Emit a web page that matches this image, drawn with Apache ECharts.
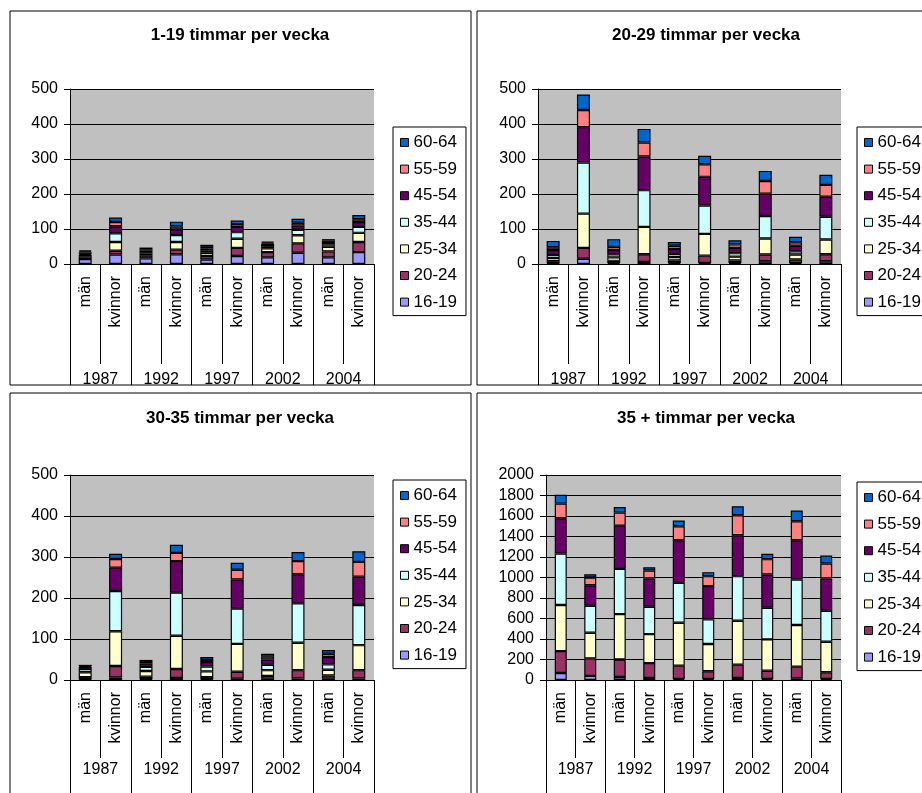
<!DOCTYPE html>
<html>
<head>
<meta charset="utf-8">
<script src="https://cdn.jsdelivr.net/npm/echarts@6/dist/echarts.min.js"></script>
<style>
  html, body { margin: 0; padding: 0; background: #fff; }
  #chart { width: 922px; height: 793px; }
</style>
</head>
<body>
<div id="chart"></div>
<script>
// Age groups (stack order bottom to top) and category levels
const ageGroups = ['16-19', '20-24', '25-34', '35-44', '45-54', '55-59', '60-64'];
const years = ['1987', '1992', '1997', '2002', '2004'];
const sexes = ['män', 'kvinnor'];

// Number of employed (thousands), bars ordered män/kvinnor for each year
// 1-19 timmar per vecka
const h1_19_16_19 = [14, 27, 16, 28, 13, 23, 19, 32, 19, 34];
const h1_19_20_24 = [8, 11, 8, 13, 10, 23, 15, 27, 17, 29];
const h1_19_25_34 = [4, 25, 6, 22, 9, 26, 11, 23, 13, 26];
const h1_19_35_44 = [3, 25, 4, 20, 6, 19, 6, 16, 7, 17];
const h1_19_45_54 = [4, 20, 4, 16, 6, 15, 7, 12, 7, 14];
const h1_19_55_59 = [3, 12, 4, 8, 5, 8, 3, 8, 4, 8];
const h1_19_60_64 = [3, 13, 5, 14, 6, 10, 3, 11, 4, 12];

// 20-29 timmar per vecka
const h20_29_16_19 = [2, 15, 3, 6, 3, 3, 3, 8, 3, 8];
const h20_29_20_24 = [6, 31, 6, 22, 7, 21, 7, 19, 10, 20];
const h20_29_25_34 = [9, 98, 10, 78, 10, 62, 11, 46, 14, 42];
const h20_29_35_44 = [9, 146, 9, 105, 9, 81, 10, 64, 9, 65];
const h20_29_45_54 = [14, 101, 12, 96, 14, 82, 15, 64, 16, 57];
const h20_29_55_59 = [8, 49, 9, 40, 9, 36, 10, 36, 10, 34];
const h20_29_60_64 = [18, 44, 22, 39, 11, 24, 12, 29, 16, 29];

// 30-35 timmar per vecka
const h30_35_16_19 = [2, 6, 2, 5, 2, 3, 3, 4, 3, 4];
const h30_35_20_24 = [5, 28, 6, 22, 5, 17, 7, 20, 8, 20];
const h30_35_25_34 = [12, 85, 14, 81, 14, 68, 14, 67, 14, 61];
const h30_35_35_44 = [8, 98, 10, 105, 12, 86, 13, 96, 13, 98];
const h30_35_45_54 = [5, 57, 8, 77, 11, 71, 13, 71, 18, 69];
const h30_35_55_59 = [2, 21, 4, 20, 5, 24, 7, 32, 8, 36];
const h30_35_60_64 = [3, 13, 5, 20, 7, 17, 7, 22, 9, 26];

// 35 + timmar per vecka
const h35p_16_19 = [68, 40, 30, 20, 10, 10, 20, 10, 15, 10];
const h35p_20_24 = [214, 171, 170, 145, 130, 75, 130, 80, 115, 65];
const h35p_25_34 = [449, 250, 443, 283, 418, 266, 428, 306, 406, 298];
const h35p_35_44 = [503, 263, 441, 266, 390, 240, 435, 309, 445, 302];
const h35p_45_54 = [344, 201, 422, 276, 416, 325, 399, 324, 383, 315];
const h35p_55_59 = [143, 75, 127, 78, 136, 97, 195, 150, 185, 146];
const h35p_60_64 = [87, 32, 55, 32, 55, 39, 88, 52, 104, 78];

const panelTitles = ['1-19 timmar per vecka', '20-29 timmar per vecka', '30-35 timmar per vecka', '35 + timmar per vecka'];
const panelSeries = [
  [h1_19_16_19, h1_19_20_24, h1_19_25_34, h1_19_35_44, h1_19_45_54, h1_19_55_59, h1_19_60_64],
  [h20_29_16_19, h20_29_20_24, h20_29_25_34, h20_29_35_44, h20_29_45_54, h20_29_55_59, h20_29_60_64],
  [h30_35_16_19, h30_35_20_24, h30_35_25_34, h30_35_35_44, h30_35_45_54, h30_35_55_59, h30_35_60_64],
  [h35p_16_19, h35p_20_24, h35p_25_34, h35p_35_44, h35p_45_54, h35p_55_59, h35p_60_64]
];
const yMax = [500, 500, 500, 2000];
const yStep = [100, 100, 100, 200];

// Layout of the four panels
const FONT = '"Liberation Sans", Arial, sans-serif';
const ageColors = ['#9999FF', '#993366', '#FFFFCC', '#CCFFFF', '#660066', '#FF8080', '#0066CC'];
const layout = [
  { box: [10, 11, 461, 374], grid: { left: 70, top: 89, width: 304, height: 175 }, titleXY: [240, 35], legend: { left: 393, top: 127 }, innerTick: 100, outerTick: 121, yearMargin: 108, barW: 13 },
  { box: [477, 11, 470, 374], grid: { left: 538, top: 89, width: 303, height: 175 }, titleXY: [706, 35], legend: { left: 857, top: 127 }, innerTick: 100, outerTick: 121, yearMargin: 108, barW: 13 },
  { box: [10, 393, 461, 420], grid: { left: 70, top: 475, width: 304, height: 205 }, titleXY: [240, 418], legend: { left: 393, top: 480 }, innerTick: 78, outerTick: 113, yearMargin: 82, barW: 13 },
  { box: [477, 393, 470, 420], grid: { left: 546, top: 475, width: 295, height: 205 }, titleXY: [706, 418], legend: { left: 857, top: 482 }, innerTick: 78, outerTick: 113, yearMargin: 82, barW: 12 }
];

// Inner category keys: one per bar, shown as the sex label only
const barKeys = [];
years.forEach(y => sexes.forEach(s => barKeys.push(s + ' ' + y)));

const grids = [], xAxes = [], yAxes = [], series = [], legends = [], graphics = [];
const black = '#000';

layout.forEach((L, p) => {
  grids.push(Object.assign({ show: true, backgroundColor: '#C0C0C0', borderWidth: 0, containLabel: false }, L.grid));

  // sex labels, rotated, with separators between every bar
  xAxes.push({
    type: 'category', gridIndex: p, data: barKeys,
    axisLine: { show: true, lineStyle: { color: black, width: 1 } },
    axisTick: { show: true, interval: 0, length: L.innerTick, lineStyle: { color: black } },
    axisLabel: { interval: 0, rotate: 90, margin: 12, fontSize: 16, fontFamily: FONT, color: black,
                 formatter: v => v.split(' ')[0] },
    splitLine: { show: false }
  });
  // year labels, separators spanning both rows
  xAxes.push({
    type: 'category', gridIndex: p, position: 'bottom', data: years,
    axisLine: { show: false },
    axisTick: { show: true, interval: 0, length: L.outerTick, lineStyle: { color: black } },
    axisLabel: { interval: 0, margin: L.yearMargin, fontSize: 16, fontFamily: FONT, color: black },
    splitLine: { show: false }
  });

  yAxes.push({
    type: 'value', gridIndex: p, min: 0, max: yMax[p], interval: yStep[p],
    axisLine: { show: true, lineStyle: { color: black } },
    axisTick: { show: true, length: 6, lineStyle: { color: black } },
    axisLabel: { margin: 12, fontSize: 16, fontFamily: FONT, color: black, formatter: v => String(v) },
    splitLine: { show: true, lineStyle: { color: black, width: 1 } }
  });

  panelSeries[p].forEach((vals, i) => {
    series.push({
      type: 'bar', name: ageGroups[i], stack: 'panel' + p,
      xAxisIndex: 2 * p, yAxisIndex: p, data: vals, barWidth: L.barW,
      itemStyle: { color: ageColors[i], borderColor: black, borderWidth: 1.2 },
      emphasis: { disabled: true }
    });
  });

  legends.push({
    orient: 'vertical', left: L.legend.left, top: L.legend.top,
    data: ageGroups.slice().reverse(), selectedMode: false,
    itemWidth: 8, itemHeight: 8, itemGap: 9.6,
    itemStyle: { borderColor: black, borderWidth: 1 },
    textStyle: { fontSize: 17, fontFamily: FONT, color: black },
    borderColor: black, borderWidth: 1, padding: [7, 9, 5, 7],
    icon: 'rect'
  });

  graphics.push({
    type: 'rect', silent: true,
    shape: { x: L.box[0], y: L.box[1], width: L.box[2], height: L.box[3] },
    style: { fill: null, stroke: black, lineWidth: 1 }
  });
  graphics.push({
    type: 'text', silent: true, x: L.titleXY[0], y: L.titleXY[1],
    style: { text: panelTitles[p], font: 'bold 17px ' + FONT, fill: black, textAlign: 'center', textVerticalAlign: 'middle' }
  });
});

const chart = echarts.init(document.getElementById('chart'), null, { renderer: 'canvas' });
chart.setOption({
  backgroundColor: '#fff',
  animation: false,
  grid: grids, xAxis: xAxes, yAxis: yAxes,
  series: series, legend: legends,
  graphic: graphics
});
</script>
</body>
</html>
